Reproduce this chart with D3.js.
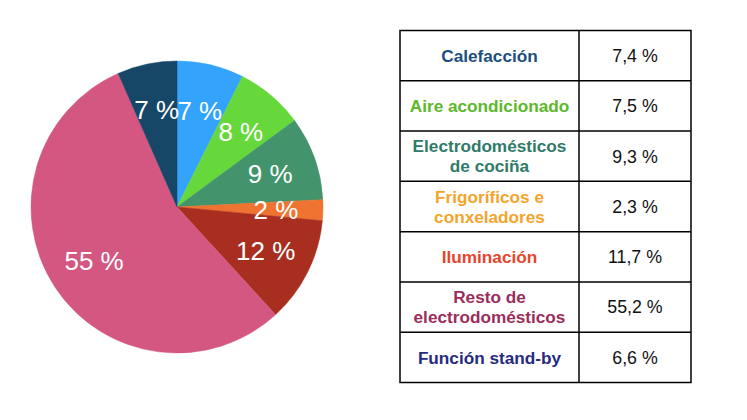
<!DOCTYPE html>
<html>
<head>
<meta charset="utf-8">
<script src="https://cdn.jsdelivr.net/npm/d3@7"></script>
<style>
  html, body { margin: 0; padding: 0; background: #fff; }
  svg { display: block; font-family: "Liberation Sans", Arial, Helvetica, sans-serif; }
</style>
</head>
<body>
<svg id="chart" width="747" height="420"></svg>
<script>
// Data
const categories = [
  ["Calefacción"],
  ["Aire acondicionado"],
  ["Electrodomésticos", "de cociña"],
  ["Frigoríficos e", "conxeladores"],
  ["Iluminación"],
  ["Resto de", "electrodomésticos"],
  ["Función stand-by"]
];
const values = [7.4, 7.5, 9.3, 2.3, 11.7, 55.2, 6.6];
const valueLabels = ["7,4 %", "7,5 %", "9,3 %", "2,3 %", "11,7 %", "55,2 %", "6,6 %"];
const sliceColors = ["#33a3fb", "#67d83c", "#43946d", "#ef7331", "#a82f20", "#d35781", "#174766"];
const textColors = ["#1b4f80", "#5cb82a", "#2f7a68", "#f5a42b", "#e8442c", "#9b2d5b", "#262b7f"];

const svg = d3.select("#chart");

// Pie
const cx = 177, cy = 207, R = 146;
const pie = d3.pie().sort(null).value(d => d)(values);
const arc = d3.arc().innerRadius(0).outerRadius(R);
const labelArc = d3.arc().innerRadius(99).outerRadius(99);

const g = svg.append("g").attr("transform", `translate(${cx},${cy})`);
g.selectAll("path.slice").data(pie).join("path")
  .attr("class", "slice")
  .attr("d", arc)
  .attr("fill", (d, i) => sliceColors[i])
  .attr("stroke", (d, i) => sliceColors[i])
  .attr("stroke-width", 0.5);

g.selectAll("text.pl").data(pie).join("text")
  .attr("class", "pl")
  .attr("transform", d => { const c = labelArc.centroid(d); return `translate(${c[0]},${c[1]})`; })
  .attr("text-anchor", "middle")
  .attr("dy", "0.36em")
  .attr("fill", "#fff")
  .attr("font-size", 26)
  .text(d => d3.format(".0f")(d.data) + " %");

// Table
const tx0 = 400, tx1 = 579, tx2 = 691;
const ty0 = 30.5, ty1 = 382.5;
const rowY = d3.scaleBand().domain(d3.range(values.length)).range([ty0, ty1]);

const tg = svg.append("g");
tg.append("rect")
  .attr("x", tx0).attr("y", ty0)
  .attr("width", tx2 - tx0).attr("height", ty1 - ty0)
  .attr("fill", "none").attr("stroke", "#000").attr("stroke-width", 1.5);
tg.append("line")
  .attr("x1", tx1).attr("x2", tx1).attr("y1", ty0).attr("y2", ty1)
  .attr("stroke", "#000").attr("stroke-width", 1.5);
tg.selectAll("line.row").data(d3.range(1, values.length)).join("line")
  .attr("class", "row")
  .attr("x1", tx0).attr("x2", tx2)
  .attr("y1", i => rowY(i)).attr("y2", i => rowY(i))
  .attr("stroke", "#000").attr("stroke-width", 1.5);

const lineH = 20;
categories.forEach((lines, i) => {
  const yc = rowY(i) + rowY.bandwidth() / 2;
  const t = tg.append("text")
    .attr("x", (tx0 + tx1) / 2)
    .attr("text-anchor", "middle")
    .attr("font-weight", "bold")
    .attr("font-size", 17.2)
    .attr("fill", textColors[i]);
  lines.forEach((ln, k) => {
    t.append("tspan")
      .attr("x", (tx0 + tx1) / 2)
      .attr("y", yc + (k - (lines.length - 1) / 2) * lineH)
      .attr("dy", "0.36em")
      .text(ln);
  });
  tg.append("text")
    .attr("x", (tx1 + tx2) / 2)
    .attr("y", yc)
    .attr("dy", "0.36em")
    .attr("text-anchor", "middle")
    .attr("font-size", 17.8)
    .attr("fill", "#111")
    .text(valueLabels[i]);
});
</script>
</body>
</html>
